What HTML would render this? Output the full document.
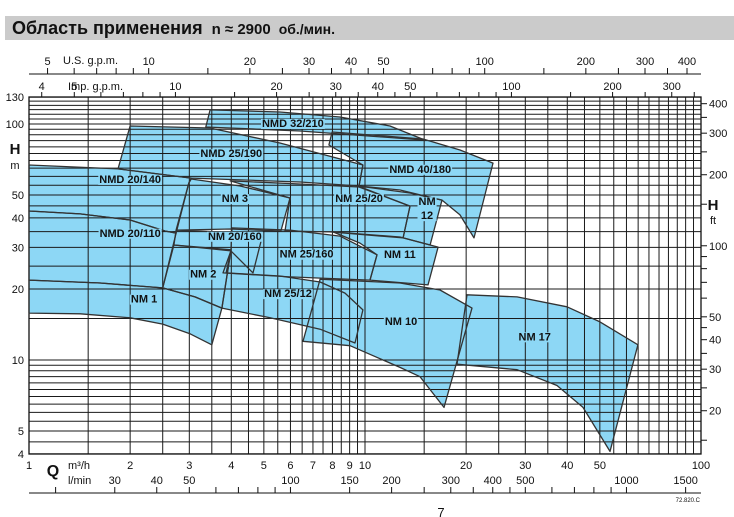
<!DOCTYPE html>
<html><head><meta charset="utf-8"><style>
html,body{margin:0;padding:0;background:#fff}
svg{display:block}
text{font-family:"Liberation Sans",Arial,sans-serif;fill:#111}
</style></head><body>
<svg id="c" width="734" height="517" viewBox="0 0 734 517" xmlns="http://www.w3.org/2000/svg">
<rect x="5" y="16" width="729" height="24" fill="#cbcbcb"/>
<text x="12" y="34" font-size="18" font-weight="bold">Область применения <tspan font-size="15" dx="4">n ≈ 2900</tspan><tspan font-size="14" dx="8">об./мин.</tspan></text>
<g id="fills"></g><g id="grid"></g><g id="outlines"></g><g id="axes"></g><g id="labels"></g>
<text x="15" y="154" font-size="15" font-weight="bold" text-anchor="middle">H</text>
<text x="15" y="169" font-size="11" text-anchor="middle">m</text>
<text x="713" y="210" font-size="15" font-weight="bold" text-anchor="middle">H</text>
<text x="713" y="224" font-size="11" text-anchor="middle">ft</text>
<text x="53" y="476" font-size="16" font-weight="bold" text-anchor="middle">Q</text>
<text x="68" y="469" font-size="11">m³/h</text>
<text x="68" y="484" font-size="11">l/min</text>
<text x="63" y="64" font-size="11">U.S. g.p.m.</text>
<text x="68" y="90" font-size="11">Imp. g.p.m.</text>
<text x="700" y="502" font-size="6" text-anchor="end">72.820.C</text>
<text x="441" y="517" font-size="13" text-anchor="middle">7</text>
</svg>
<script>
const pumpNames=["NMD 20/140","NMD 20/110","NM 1","NM 2","NMD 25/190","NMD 32/210","NMD 40/180","NM 3","NM 20/160","NM 25/20","NM 12","NM 25/160","NM 11","NM 25/12","NM 10","NM 17"];
const pumpQ=[
[1,1.84,3.04,2.99,2.74,2.54,2.0,1.42,1],
[1,1.42,2.0,2.54,2.74,2.5,1.63,1],
[1,1.63,2.5,3.12,3.75,3.5,3.02,2.5,2.0,1.42,1],
[2.7,3.99,3.75,3.12,2.5],
[2.0,3.46,5.58,9.86,9.6,6.41,3.04,1.84],
[3.46,5.58,8.42,11.87,15.09,6.41,3.36],
[7.98,14.88,19.17,24.04,21.1,19.17,16.95,12.71,9.6,9.86,7.81],
[3.04,4.25,5.98,5.62,3.97,2.74,2.99],
[2.74,3.7,4.94,4.64,3.99,2.7],
[3.97,6.41,9.6,13.61,12.98,7.87,5.78,5.98],
[9.53,13.61,16.95,15.62,12.98,13.61],
[4.02,5.98,8.42,10.86,10.35,5.98,3.78,3.99],
[8.03,12.71,16.5,15.4,10.35,10.86,9.66],
[3.99,3.86,5.58,7.35,8.72,9.86,9.34,7.35,5.22,3.75],
[7.35,12.71,16.72,20.82,17.18,14.58,12.71,9.03,6.54],
[20.12,28.35,39.93,50.05,64.9,53.6,44.56,37.27,28.35,18.78]];
const pumpH=[
[67,64.5,59,56.2,34.5,35.2,39.2,41.6,42.8],
[42.8,41.6,39.2,35.2,34.5,20.2,21.2,21.8],
[21.8,21.2,20.2,18.5,16.6,11.6,12.9,14.2,15.1,15.7,15.8],
[30.7,29.3,16.6,18.5,20.2],
[98.1,96.2,83.1,67,54.6,56.8,59,64.5],
[114.7,112.4,107.1,98.1,85.5,93.4,97.1],
[92.5,86.4,77.6,68.3,32.9,41.2,47.6,52.5,54.6,67,81.5],
[58.5,54.6,48.6,35.2,35.9,35.5,56.2],
[35.5,34.9,33.2,23.4,29.0,30.7],
[57.4,55.7,54.1,44.9,32.9,34.9,35.2,48.6],
[54.6,51,47.6,30.7,32.9,44.9],
[36.3,35.5,33.5,27.9,21.8,22.5,23.4,29.0],
[34.9,33.2,30.1,20.8,21.8,27.9,31.3],
[29.0,23.4,22.7,21.4,19.2,16.3,11.8,13.5,15.1,16.6],
[22.0,21.2,19.8,16.6,6.3,8.5,9.3,11.5,12.0],
[18.9,18.5,16.8,14.5,11.6,4.1,6.3,7.8,9.1,9.6]];
const labelQ=[2.0,2.0,2.2,3.3,4.0,6.1,14.6,4.1,4.1,9.6,15.3,6.7,12.7,5.9,12.8,32.0];
const labelH=[58.5,34.6,18.2,23.2,75.2,101,64.6,48.5,33.6,48.5,44,28.2,28.1,19.2,14.6,12.6];
const qTickLabels=[1,2,3,4,5,6,7,8,9,10,20,30,40,50,100];
const lminLabels=[30,40,50,100,150,200,300,400,500,1000,1500];
const lminTicks=[20,30,40,50,60,70,80,90,100,150,200,250,300,350,400,450,500,600,700,800,900,1000,1500];
const hLabels=[4,5,10,20,30,40,50,100,130];
const ftLabels=[20,30,40,50,100,200,300,400];
const ftTicks=[15,20,25,30,35,40,45,50,60,70,80,90,100,150,200,250,300,350,400];
const usLabels=[5,10,20,30,40,50,100,200,300,400];
const usTicks=[5,6,7,8,9,10,15,20,25,30,35,40,45,50,60,70,80,90,100,150,200,250,300,350,400];
const impLabels=[4,5,10,20,30,40,50,100,200,300];
const impTicks=[4,5,6,7,8,9,10,15,20,25,30,35,40,45,50,60,70,80,90,100,150,200,250,300,350];

const NS="http://www.w3.org/2000/svg";
const X0=29,X1=701,YT=97,YB=454;
const X=q=>X0+(X1-X0)/2*Math.log10(q);
const Y=h=>360-236*Math.log10(h/10);
function mk(tag,parent,attrs){const e=document.createElementNS(NS,tag);for(const k in attrs)e.setAttribute(k,attrs[k]);parent.appendChild(e);return e;}
const gF=document.getElementById('fills'),gG=document.getElementById('grid'),gO=document.getElementById('outlines'),gA=document.getElementById('axes'),gL=document.getElementById('labels');
const BLUE="#8dd7f5";
pumpNames.forEach((n,i)=>{
  const pts=pumpQ[i].map((q,j)=>X(q).toFixed(1)+","+Y(pumpH[i][j]).toFixed(1)).join(" ");
  const slug=n.toLowerCase().replace(/[^a-z0-9]+/g,'-');
  const p=mk('polygon',gF,{points:pts,fill:BLUE,stroke:'none'});
  
  
  const o=mk('polygon',gO,{points:pts,fill:'none',stroke:'#333','stroke-width':1.3,'stroke-linejoin':'round'});
  
  
});
// grid
const vq=[];for(let q=1;q<10;q+=0.5)vq.push(q);for(let q=10;q<=100;q+=5)vq.push(q);
vq.forEach(q=>{const l=mk('line',gG,{x1:X(q),x2:X(q),y1:YT,y2:YB,stroke:'#1a1a1a','stroke-width':1});

});
const hh=[];for(let h=4;h<10;h+=0.5)hh.push(h);for(let h=10;h<=130;h+=5)hh.push(h);
hh.forEach(h=>{const l=mk('line',gG,{x1:X0,x2:X1,y1:Y(h),y2:Y(h),stroke:'#1a1a1a','stroke-width':1});

});
const fr=mk('rect',gG,{x:X0,y:YT,width:X1-X0,height:YB-YT,fill:'none',stroke:'#111','stroke-width':1.3});


// left labels
hLabels.forEach(h=>{const t=mk('text',gA,{x:24,y:Y(h)+4,'font-size':11,'text-anchor':'end'});t.textContent=h;

});
// right ft axis
ftTicks.forEach(f=>{const y=Y(f/3.281);const l=mk('line',gA,{x1:X1,x2:X1+6,y1:y,y2:y,stroke:'#111'});

});
ftLabels.forEach(f=>{const t=mk('text',gA,{x:X1+8,y:Y(f/3.281)+4,'font-size':11});t.textContent=f;

});
// bottom
qTickLabels.forEach(q=>{const t=mk('text',gA,{x:X(q),y:469,'font-size':11,'text-anchor':'middle'});t.textContent=q;

});
const bl=mk('line',gA,{x1:X0,x2:X1,y1:493,y2:493,stroke:'#111','stroke-width':1});


lminTicks.forEach(v=>{const x=X(v/16.667);const l=mk('line',gA,{x1:x,x2:x,y1:487,y2:493,stroke:'#111'});

});
lminLabels.forEach(v=>{const t=mk('text',gA,{x:X(v/16.667),y:484,'font-size':11,'text-anchor':'middle'});t.textContent=v;

});
// top US gpm
const ul=mk('line',gA,{x1:X0,x2:X1,y1:74,y2:74,stroke:'#111'});


usTicks.forEach(v=>{const x=X(v/4.403);const l=mk('line',gA,{x1:x,x2:x,y1:68,y2:74,stroke:'#111'});

});
usLabels.forEach(v=>{const t=mk('text',gA,{x:X(v/4.403),y:65,'font-size':11,'text-anchor':'middle'});t.textContent=v;

});
impTicks.forEach(v=>{const x=X(v/3.666);const l=mk('line',gA,{x1:x,x2:x,y1:92,y2:97,stroke:'#111'});

});
impLabels.forEach(v=>{const t=mk('text',gA,{x:X(v/3.666),y:90,'font-size':11,'text-anchor':'middle'});t.textContent=v;

});
// region labels
pumpNames.forEach((n,i)=>{
  const x=X(labelQ[i]),y=Y(labelH[i]);
  const slug=n.toLowerCase().replace(/[^a-z0-9]+/g,'-');
  const r=mk('rect',gL,{fill:BLUE});
  
  
  let t;
  if(n==="NM 12"){
    t=mk('text',gL,{x:x,y:y,'font-size':11,'font-weight':'bold','text-anchor':'middle'});
    const a=mk('tspan',t,{x:x,dy:-3});a.textContent="NM";
    const b=mk('tspan',t,{x:x,dy:14});b.textContent="12";
  } else {
    t=mk('text',gL,{x:x,y:y+4,'font-size':11,'font-weight':'bold','text-anchor':'middle'});
    t.textContent=n;
  }
  
  
  const b=t.getBBox();
  r.setAttribute('x',b.x-1);r.setAttribute('y',b.y+1);r.setAttribute('width',b.width+2);r.setAttribute('height',b.height-2);
});
</script>
</body></html>
